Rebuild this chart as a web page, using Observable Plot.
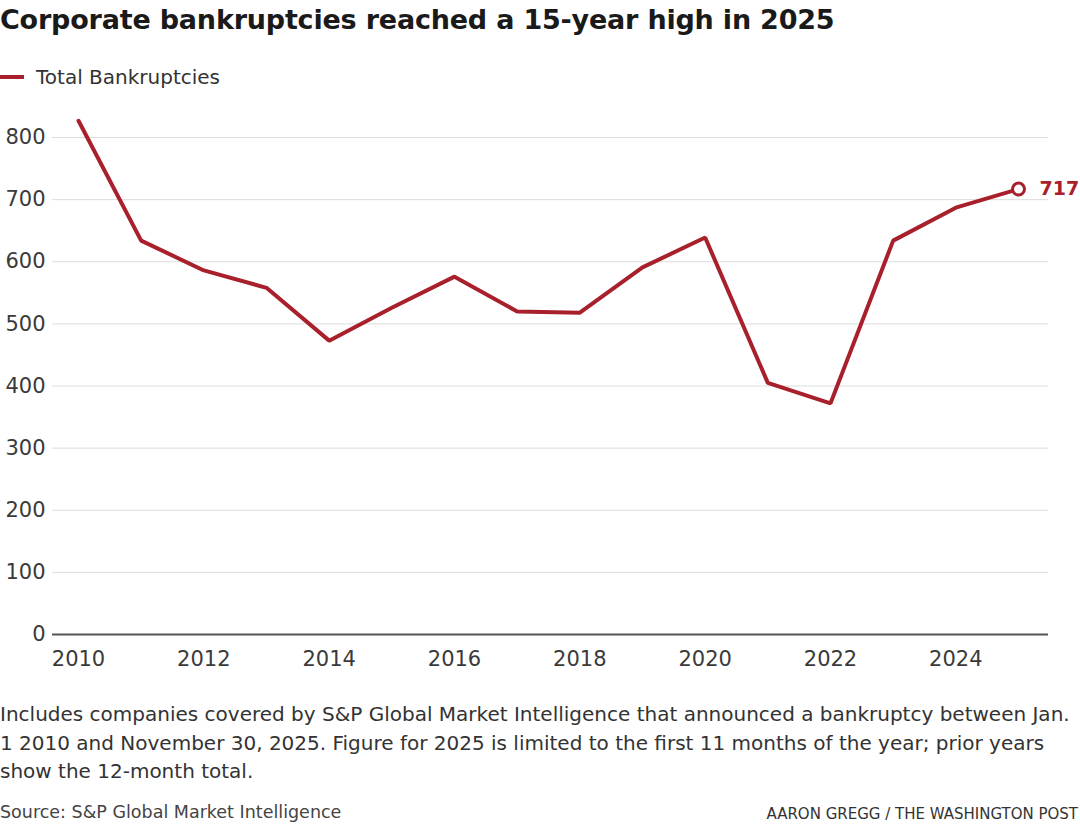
<!DOCTYPE html>
<html><head><meta charset="utf-8">
<script src="https://cdn.jsdelivr.net/npm/d3@7"></script>
<script src="https://cdn.jsdelivr.net/npm/@observablehq/plot@0.6"></script>
<style>
body{margin:0;background:#fff;font-family:"DejaVu Sans",sans-serif;color:#222;width:1080px;overflow:hidden}
#title{position:absolute;left:0;top:4px;font-size:27px;font-weight:700;color:#1a1a1a;letter-spacing:-0.2px}
#legend{position:absolute;left:0;top:65px;font-size:20px;color:#333;display:flex;align-items:center}
#legend span.sw{display:inline-block;width:24px;height:4px;background:#a8202c;margin-right:12px}
#chart{position:absolute;left:0;top:100px}
#note{position:absolute;left:0;top:700px;font-size:20px;line-height:28.5px;color:#333;width:1080px}
#src{position:absolute;left:0;top:802px;font-size:17.5px;color:#444}
#credit{position:absolute;right:2px;top:805px;font-size:15px;color:#333}
</style></head><body>
<div id="title">Corporate bankruptcies reached a 15-year high in 2025</div>
<div id="legend"><span class="sw"></span>Total Bankruptcies</div>
<div id="chart"></div>
<div id="note">Includes companies covered by S&amp;P Global Market Intelligence that announced a bankruptcy between Jan. 1 2010 and November 30, 2025. Figure for 2025 is limited to the first 11 months of the year; prior years show the 12-month total.</div>
<div id="src">Source: S&amp;P Global Market Intelligence</div>
<div id="credit">AARON GREGG / THE WASHINGTON POST</div>
<script>
const years = [2010,2011,2012,2013,2014,2015,2016,2017,2018,2019,2020,2021,2022,2023,2024,2025];
const bankruptcies = [827,634,586,558,473,526,576,520,518,591,639,405,372,634,687,717];
const yTicks = [0,100,200,300,400,500,600,700,800];
const xTicks = [2010,2012,2014,2016,2018,2020,2022,2024];
const lineColor = "#a8202c";

const data = years.map((y,i)=>({year:y, value:bankruptcies[i]}));
const last = data[data.length-1];

const plot = Plot.plot({
  width:1080, height:574,
  marginLeft:52, marginRight:32, marginTop:37, marginBottom:40,
  style:{fontFamily:"'DejaVu Sans', sans-serif", fontSize:"21px", color:"#3a3a3a", background:"transparent", overflow:"visible"},
  x:{domain:[2010,2025], insetLeft:26, insetRight:30, ticks:xTicks, tickFormat:d=>String(d), tickSize:0, tickPadding:17, label:null},
  y:{domain:[0,800], ticks:yTicks, tickSize:0, tickPadding:7, label:null},
  marks:[
    Plot.gridY(yTicks.filter(d=>d>0), {stroke:"#ddd", strokeOpacity:1, strokeWidth:1}),
    Plot.ruleY([0], {stroke:"#555", strokeWidth:2}),
    Plot.line(data, {x:"year", y:"value", stroke:lineColor, strokeWidth:4, strokeLinejoin:"miter"}),
    Plot.dot([last], {x:"year", y:"value", r:6, fill:"#fff", stroke:lineColor, strokeWidth:3}),
    Plot.text([last], {x:"year", y:"value", text:d=>String(d.value), dx:21, textAnchor:"start", fill:lineColor, fontWeight:700, fontSize:19})
  ]
});
document.getElementById("chart").appendChild(plot);
</script>
</body></html>
